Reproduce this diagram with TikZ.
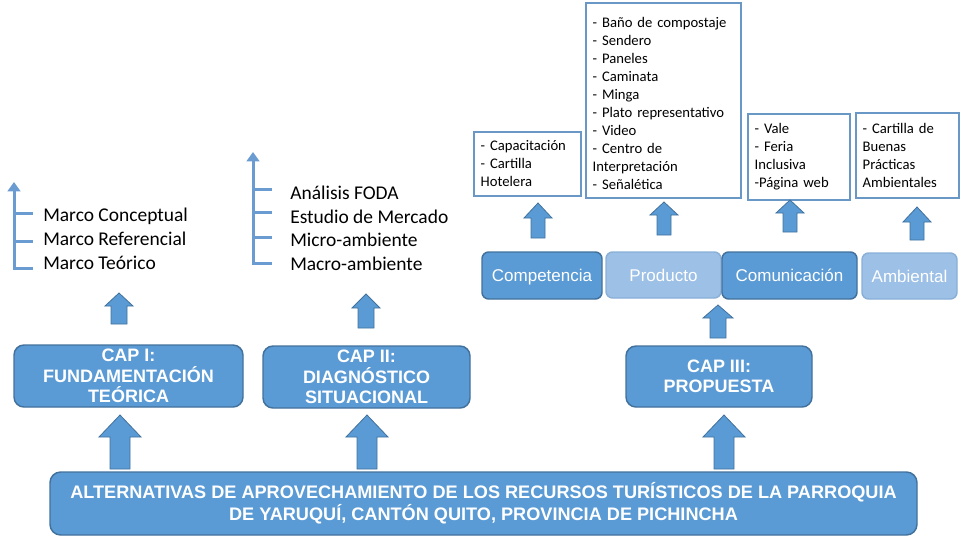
\documentclass[tikz,border=0pt]{standalone}
\usepackage{fontspec}
\setmainfont{Carlito}
\newfontfamily\arialf{Liberation Sans}
\usetikzlibrary{arrows.meta}
\definecolor{bfill}{HTML}{5B9BD5}
\definecolor{bdraw}{HTML}{41719C}
\definecolor{lfill}{HTML}{9DC0E6}
\definecolor{ldraw}{HTML}{8AB0D8}
\definecolor{tdraw}{HTML}{6A98C6}
\definecolor{brk}{HTML}{6A9BD1}
\newcommand{\uparrowshape}[6]{%
  \draw[blockarr] ({#1-#6},#4) -- ({#1-#6},#3) -- ({#1-#5},#3) -- (#1,#2) -- ({#1+#5},#3) -- ({#1+#6},#3) -- ({#1+#6},#4) -- cycle;}
\tikzset{
  blockarr/.style={fill=bfill, draw=bdraw, line width=0.6pt, line join=miter},
  darkbox/.style={fill=bfill, draw=bdraw, line width=1.1pt, rounded corners=5pt, text=white, font=\arialf\fontsize{12.75pt}{15pt}\selectfont, inner sep=0pt, text height=9.2pt, text depth=0pt},
  lightbox/.style={fill=lfill, draw=ldraw, line width=1.1pt, rounded corners=5pt, text=white, font=\arialf\fontsize{12.75pt}{15pt}\selectfont, inner sep=0pt, text height=9.2pt, text depth=0pt},
  capbox/.style={fill=bfill, draw=bdraw, line width=1.1pt, rounded corners=7.5pt, text=white, align=center, font=\arialf\bfseries\fontsize{13.5pt}{15.4pt}\selectfont, inner sep=0pt},
  listbox/.style={draw=tdraw, line width=1.5pt, fill=white, anchor=north west, align=left, inner xsep=5pt, inner ysep=0pt, font=\fontsize{11pt}{13.5pt}\selectfont},
  brkline/.style={draw=brk, line width=2.25pt},
  brktip/.style={-{Triangle[width=9.5pt,length=7pt]}},
  brktext/.style={anchor=base west, inner sep=0pt, font=\fontsize{14.6pt}{18pt}\selectfont},
}
\begin{document}
\begin{tikzpicture}[x=0.75pt, y=-0.75pt]
\useasboundingbox (0,0) rectangle (960,540);

% ---- left lists
\draw[brkline, brktip] (33,268) -- (14,268) -- (14,182);
\draw[brkline] (14,213) -- (33,213);
\draw[brkline] (14,241) -- (33,241);
\node[brktext] (mc) at (43,221) {Marco Conceptual};
\node[brktext] (mr) at (43,245) {Marco Referencial};
\node[brktext] (mt) at (43,269) {Marco Teórico};

\draw[brkline, brktip] (272,263) -- (253,263) -- (253,152);
\draw[brkline] (253,189) -- (272,189);
\draw[brkline] (253,212) -- (272,212);
\draw[brkline] (253,237) -- (272,237);
\node[brktext] (af) at (290,199) {Análisis FODA};
\node[brktext] (em) at (290,223) {Estudio de Mercado};
\node[brktext] (mi) at (290,246) {Micro-ambiente};
\node[brktext] (ma) at (290,270) {Macro-ambiente};

% ---- top list boxes
\node[listbox, text width=70.25pt, minimum height=48pt] (lcomp) at (473,131)
  {- Capacitación\\- Cartilla\\Hotelera};
\node[listbox, text width=106.25pt, minimum height=146.25pt] (lprod) at (585,2)
  {\rule{0pt}{12.5pt}- Baño de compostaje\\- Sendero\\- Paneles\\- Caminata\\- Minga\\- Plato representativo\\- Video\\- Centro de\\Interpretación\\- Señalética};
\node[listbox, text width=66.5pt, minimum height=64.5pt] (lcom) at (747,113)
  {- Vale\\- Feria\\Inclusiva\\-Página web};
\node[listbox, text width=67.25pt, minimum height=63.75pt] (lamb) at (855,112)
  {- Cartilla de\\Buenas\\Prácticas\\Ambientales};

% ---- middle row
\node[darkbox, minimum width=90pt, minimum height=35.25pt] (comp) at (542,275.5) {Competencia};
\node[lightbox, minimum width=86.25pt, minimum height=34.5pt] (prod) at (663.5,275) {Producto};
\node[darkbox, minimum width=101.25pt, minimum height=35.25pt] (comu) at (789.5,275.5) {Comunicación};
\node[lightbox, minimum width=71.25pt, minimum height=34.5pt] (amb) at (909.5,276) {Ambiental};

% ---- chapter boxes
\node[capbox, minimum width=171.75pt, minimum height=46.5pt] (cap1) at (128.5,376) {CAP I:\\FUNDAMENTACIÓN\\TEÓRICA};
\node[capbox, minimum width=155.25pt, minimum height=46.5pt] (cap2) at (366.5,377) {CAP II:\\DIAGNÓSTICO\\SITUACIONAL};
\node[capbox, minimum width=139.5pt, minimum height=45.75pt] (cap3) at (719,376.5) {CAP III:\\PROPUESTA};

% ---- main box
\node[capbox, rounded corners=8pt, minimum width=650.25pt, minimum height=47.25pt, font=\arialf\bfseries\fontsize{13.6pt}{16.5pt}\selectfont] (main) at (483.5,503.5)
  {ALTERNATIVAS DE APROVECHAMIENTO DE LOS RECURSOS TURÍSTICOS DE LA PARROQUIA\\DE YARUQUÍ, CANTÓN QUITO, PROVINCIA DE PICHINCHA};

% ---- block arrows
\uparrowshape{120}{415}{437}{469}{21}{10}
\uparrowshape{367}{415}{437}{469}{21}{10}
\uparrowshape{724}{415}{437}{469}{21}{10}
\uparrowshape{119}{293}{306}{324}{14}{8}
\uparrowshape{366}{294}{308}{328}{14}{8}
\uparrowshape{718}{305}{318}{338}{15}{8}
\uparrowshape{538}{203}{218}{238}{14}{7}
\uparrowshape{664}{202}{215}{235}{14}{7}
\uparrowshape{790}{200}{213}{232}{14}{7}
\uparrowshape{917}{207}{222}{240}{14}{7}
\end{tikzpicture}
\end{document}
